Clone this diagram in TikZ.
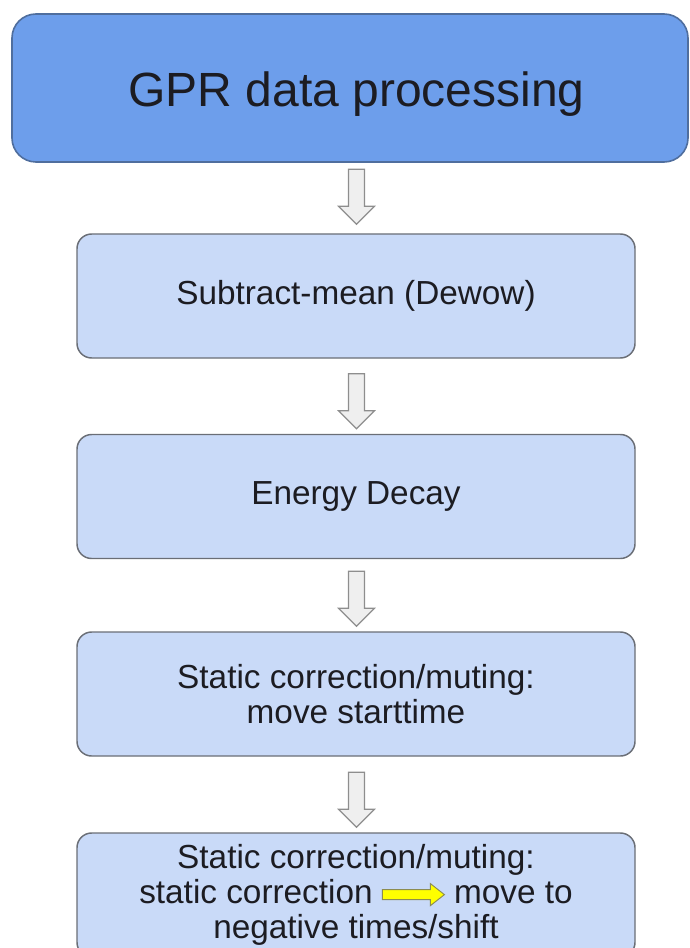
\documentclass[tikz,border=0pt]{standalone}
\usepackage{fontspec}
\setmainfont{Liberation Sans}
\usetikzlibrary{calc}

\definecolor{headfill}{HTML}{6D9EEB}
\definecolor{headline}{HTML}{4F6E9E}
\definecolor{stepfill}{HTML}{C9DAF8}
\definecolor{stepline}{HTML}{6A6E76}
\definecolor{arrowfill}{HTML}{EFEFEF}
\definecolor{arrowline}{HTML}{8E8E8E}
\definecolor{txt}{HTML}{1C1C22}
\definecolor{ylwfill}{HTML}{FFFF00}
\definecolor{ylwline}{HTML}{8C8C50}

\tikzset{
  headbox/.style={draw=headline, fill=headfill, line width=1.2pt,
    rounded corners=18pt, minimum width=676*0.75pt, minimum height=148*0.75pt,
    inner sep=0pt},
  headtext/.style={text=txt, font=\fontsize{36}{40}\selectfont, inner sep=0pt},
  stepbox/.style={draw=stepline, fill=stepfill, line width=1.1pt,
    rounded corners=11pt, minimum width=558*0.75pt, minimum height=124*0.75pt,
    text=txt, font=\fontsize{25}{26.3}\selectfont, align=center, inner sep=0pt},
  % hollow block arrow pointing down, drawn from its tip
  downblock/.pic={
    \draw[draw=arrowline, fill=arrowfill, line width=0.9pt, sharp corners, line join=miter]
      (-8,-55) -- (8,-55) -- (8,-18) -- (18,-18) -- (0,0)
      -- (-18,-18) -- (-8,-18) -- cycle;
  },
  % small yellow block arrow pointing right, used inside text
  rightblock/.pic={
    \draw[draw=ylwline, fill=ylwfill, line width=0.7pt, sharp corners, line join=miter]
      (0,-5) -- (48,-5) -- (48,-11) -- (62,0) -- (48,11)
      -- (48,5) -- (0,5) -- cycle;
  }
}

\begin{document}
\begin{tikzpicture}[x=0.75pt, y=-0.75pt]
  \useasboundingbox (0,0) rectangle (689,948);

  % processing steps
  \node[headbox] (head) at (350,88) {};
  \node[headtext] (headlabel) at (356.5,94) {GPR data processing};
  \node[stepbox] (dewow) at (356,296) {Subtract-mean (Dewow)};
  \node[stepbox] (decay) at (356,496.5) {Energy Decay};
  \node[stepbox] (start) at (356,694) {Static correction/muting:\\move starttime};
  \node[stepbox] (shift) at (356,895) {Static correction/muting:\\
    static correction
    \smash{\tikz[x=0.75pt, y=-0.75pt, baseline={(0,9)}, sharp corners]\pic{rightblock};}
    move to\\
    negative times/shift};

  % block arrows between the steps
  \coordinate (t1) at ($(dewow.north)+(0.5,-9)$);
  \coordinate (t2) at ($(decay.north)+(0.5,-5)$);
  \coordinate (t3) at ($(start.north)+(0.5,-5)$);
  \coordinate (t4) at ($(shift.north)+(0.5,-5)$);
  \pic at (t1) {downblock};
  \pic at (t2) {downblock};
  \pic at (t3) {downblock};
  \pic at (t4) {downblock};
\end{tikzpicture}
\end{document}
